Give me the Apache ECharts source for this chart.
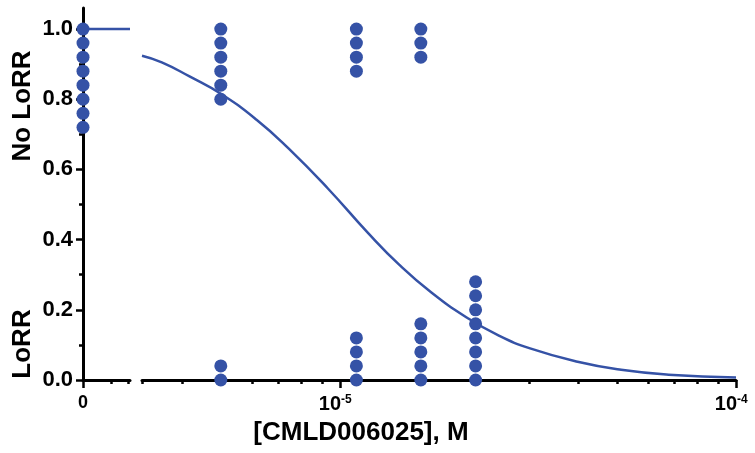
<!DOCTYPE html>
<html lang="en">
<head>
    <meta charset="UTF-8">
    <title>CMLD006025 LoRR</title>
    <script src="https://cdn.jsdelivr.net/npm/echarts@6.0.0/dist/echarts.min.js"></script>
    <style>
        html, body { margin: 0; padding: 0; background: #fff; }
    </style>
</head>
<body>
    <div id="main" style="width: 755px; height: 453px;"></div>
    <script>
        // dots at zero dose (broken-off left segment)
        var zeroDoseY = [1.0, 0.96, 0.92, 0.88, 0.84, 0.80, 0.76, 0.72];
        // doses in M and the dots stacked at each dose
        var doses = [5e-6, 1.1e-5, 1.6e-5, 2.2e-5];
        var doseY = [
            [1.0, 0.96, 0.92, 0.88, 0.84, 0.80, 0.04, 0.0],
            [1.0, 0.96, 0.92, 0.88, 0.12, 0.08, 0.04, 0.0],
            [1.0, 0.96, 0.92, 0.16, 0.12, 0.08, 0.04, 0.0],
            [0.28, 0.24, 0.20, 0.16, 0.12, 0.08, 0.04, 0.0]
        ];
        // fitted curve (log10 of dose, fraction)
        var curveLogX = [-5.50, -5.45, -5.38, -5.30, -5.21, -5.13, -5.03, -4.93, -4.85, -4.77, -4.68, -4.60, -4.52, -4.40, -4.29, -4.17, -4.00];
        var curveY = [0.924, 0.905, 0.865, 0.815, 0.741, 0.660, 0.545, 0.420, 0.328, 0.250, 0.178, 0.127, 0.090, 0.052, 0.029, 0.015, 0.007];
        var zeroCurveY = [1.0, 1.0];
        // tick positions
        var yTicks = [0, 0.2, 0.4, 0.6, 0.8, 1.0];
        var yMinorTicks = [0.1, 0.3, 0.5, 0.7, 0.9];
        var logMajorTicks = [-5, -4];
        var minorDoses = [3.1623e-6, 4e-6, 6e-6, 7e-6, 8e-6, 9e-6, 3e-5, 4e-5, 5e-5, 6e-5, 7e-5, 8e-5, 9e-5];

        var blue = '#3552a6';
        var font = '"Liberation Sans", Arial, Helvetica, sans-serif';
        var myChart = echarts.init(document.getElementById('main'));

        var scatterData = [];
        for (var i = 0; i < doses.length; i++) {
            for (var j = 0; j < doseY[i].length; j++) {
                scatterData.push([Math.log10(doses[i]), doseY[i][j]]);
            }
        }
        var curveData = curveLogX.map(function (x, k) { return [x, curveY[k]]; });
        var minorLog = minorDoses.map(function (d) { return Math.log10(d); });

        var lineStyle = { color: '#000', width: 3 };
        var tickStyle = { color: '#000', width: 2.5 };

        var option = {
            animation: false,
            grid: [
                { left: 83, top: 8, width: 47, bottom: 73, outerBoundsMode: 'none' },
                { left: 142, top: 8, right: 19, bottom: 73, outerBoundsMode: 'none' }
            ],
            xAxis: [
                {
                    gridIndex: 0, type: 'value', min: 0, max: 1, position: 'bottom',
                    axisLine: { lineStyle: lineStyle },
                    axisTick: { length: 8, lineStyle: tickStyle, customValues: [0] },
                    axisLabel: {
                        customValues: [0], margin: 14, color: '#000',
                        fontSize: 18, fontWeight: 'bold', fontFamily: font
                    },
                    splitLine: { show: false }
                },
                {
                    gridIndex: 0, type: 'value', min: 0, max: 1, position: 'bottom',
                    axisLine: { show: false },
                    axisTick: { length: 4, lineStyle: tickStyle, customValues: [0.6, 0.96] },
                    axisLabel: { show: false },
                    splitLine: { show: false }
                },
                {
                    gridIndex: 1, type: 'value', min: -5.5, max: -4, position: 'bottom',
                    axisLine: { show: false },
                    axisTick: { length: 4, lineStyle: tickStyle, customValues: minorLog },
                    axisLabel: { show: false },
                    splitLine: { show: false }
                },
                {
                    gridIndex: 1, type: 'value', min: -5.5, max: -4, position: 'bottom',
                    axisLine: { lineStyle: lineStyle },
                    axisTick: { length: 8, lineStyle: tickStyle, customValues: logMajorTicks },
                    axisLabel: { show: false },
                    splitLine: { show: false }
                }
            ],
            yAxis: [
                {
                    gridIndex: 0, type: 'value', min: 0, max: 1.06, position: 'left',
                    axisLine: { show: true, lineStyle: lineStyle },
                    axisTick: { show: true, length: 7, lineStyle: tickStyle, customValues: yTicks },
                    axisLabel: {
                        customValues: yTicks, margin: 10, color: '#000',
                        fontSize: 22, fontWeight: 'bold', fontFamily: font,
                        formatter: function (v) { return v.toFixed(1); }
                    },
                    splitLine: { show: false }
                },
                {
                    gridIndex: 0, type: 'value', min: 0, max: 1.06, position: 'left',
                    axisLine: { show: false },
                    axisTick: { show: true, length: 4, lineStyle: tickStyle, customValues: yMinorTicks },
                    axisLabel: { show: false },
                    splitLine: { show: false }
                },
                {
                    gridIndex: 1, type: 'value', min: 0, max: 1.06, show: false
                }
            ],
            series: [
                {
                    type: 'line', xAxisIndex: 0, yAxisIndex: 0,
                    data: [[0, zeroCurveY[0]], [1, zeroCurveY[1]]],
                    showSymbol: false, lineStyle: { color: blue, width: 2.5 }, z: 2
                },
                {
                    type: 'scatter', xAxisIndex: 0, yAxisIndex: 0,
                    data: zeroDoseY.map(function (y) { return [0, y]; }),
                    symbolSize: 13, itemStyle: { color: blue, opacity: 1 }, clip: false, z: 3
                },
                {
                    type: 'line', xAxisIndex: 3, yAxisIndex: 2,
                    data: curveData, smooth: true,
                    showSymbol: false, lineStyle: { color: blue, width: 2.5 }, z: 2
                },
                {
                    type: 'scatter', xAxisIndex: 3, yAxisIndex: 2,
                    data: scatterData,
                    symbolSize: 13, itemStyle: { color: blue, opacity: 1 }, clip: false, z: 3
                }
            ],
            graphic: {
                elements: [
                    {
                        type: 'text', x: 23, y: 106, rotation: Math.PI / 2,
                        style: {
                            text: 'No LoRR', fill: '#000', font: 'bold 26px ' + font,
                            textAlign: 'center', textVerticalAlign: 'middle'
                        }
                    },
                    {
                        type: 'text', x: 23, y: 344, rotation: Math.PI / 2,
                        style: {
                            text: 'LoRR', fill: '#000', font: 'bold 26px ' + font,
                            textAlign: 'center', textVerticalAlign: 'middle'
                        }
                    },
                    {
                        type: 'text', x: 361, y: 433,
                        style: {
                            text: '[CMLD006025], M', fill: '#000', font: 'bold 26px ' + font,
                            textAlign: 'center', textVerticalAlign: 'middle'
                        }
                    }
                ]
            }
        };
        myChart.setOption(option);

        // power-of-ten labels under the log segment, placed through the axis scale
        var decadeLabels = [];
        logMajorTicks.forEach(function (v) {
            var px = myChart.convertToPixel({ xAxisIndex: 3 }, v);
            decadeLabels.push({
                type: 'text', x: px + 1, y: 404,
                style: {
                    text: '10', fill: '#000', font: 'bold 20px ' + font,
                    textAlign: 'right', textVerticalAlign: 'middle'
                }
            });
            decadeLabels.push({
                type: 'text', x: px + 1, y: 400,
                style: {
                    text: String(v), fill: '#000', font: 'bold 12px ' + font,
                    textAlign: 'left', textVerticalAlign: 'middle'
                }
            });
        });
        myChart.setOption({ graphic: { elements: option.graphic.elements.concat(decadeLabels) } });
    </script>
</body>
</html>
